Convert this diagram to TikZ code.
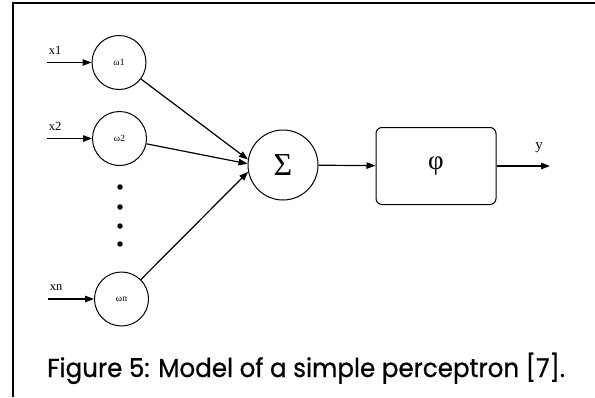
\documentclass[tikz,border=0pt]{standalone}
\usepackage{fontspec}
\setmainfont{Liberation Serif}
\newfontfamily\capfont{Poppins}[FakeBold=0.8]
\usetikzlibrary{arrows.meta}
\begin{document}
\begin{tikzpicture}[x=1pt,y=-1pt,
  weight/.style={circle, draw, line width=1pt, minimum size=54pt, inner sep=0pt,
    font=\fontsize{9.5}{9.5}\selectfont},
  sumnode/.style={circle, draw, line width=1pt, minimum size=70pt, inner sep=0pt,
    font=\fontsize{32}{32}\selectfont},
  actbox/.style={draw, line width=1pt, rounded corners=6pt, minimum width=120pt,
    minimum height=77pt, inner sep=0pt, font=\fontsize{27}{27}\selectfont},
  link/.style={line width=1.2pt, -{Triangle[length=9pt,width=6.5pt]}},
  inlabel/.style={font=\fontsize{12.5}{12.5}\selectfont, inner sep=0pt},
  dot/.style={circle, fill, minimum size=5.5pt, inner sep=0pt}]
  \useasboundingbox (0,0) rectangle (595,397);

  % frame
  \draw[line width=2pt] (595,3) -- (12.5,3) -- (12.5,397);

  % weight units
  \node[weight] (w1) at (119,62.5) {ω1};
  \node[weight] (w2) at (119.5,138.5) {ω2};
  \node[weight] (wn) at (121.5,299) {ωn};

  % ellipsis between the inputs
  \node[dot] (d1) at (120,187) {};
  \node[dot] (d2) at (120,207) {};
  \node[dot] (d3) at (120,226) {};
  \node[dot] (d4) at (120,244) {};

  % summation and activation
  \node[sumnode] (s) at (283,165) {Σ};
  \node[actbox] (phi) at (436,166) {φ};

  % inputs and output
  \coordinate (in1) at (47,62.5);
  \coordinate (in2) at (47,138.5);
  \coordinate (inn) at (48,299);
  \coordinate (out) at (550,166);
  \node[inlabel] (lx1) at (55,50) {x1};
  \node[inlabel] (lx2) at (55,126) {x2};
  \node[inlabel] (lxn) at (56,288) {xn};
  \node[inlabel, font=\fontsize{15}{15}\selectfont] (ly) at (539,148) {y};

  \draw[link] (in1) -- (w1);
  \draw[link] (in2) -- (w2);
  \draw[link] (inn) -- (wn);
  % the weighted inputs all meet at the left side of the sum
  \draw[link] (w1) -- (s.171);
  \draw[link] (w2) -- (s.178);
  \draw[link] (wn) -- (s.191);
  \draw[link] (s) -- (phi);
  \draw[link] (phi) -- (out);

  % caption
  \node[anchor=base west, inner sep=0pt, font=\capfont\fontsize{26}{26}\selectfont]
    (cap) at (47,377) {\scalebox{0.945}[1]{Figure 5: Model of a simple perceptron [7].}};
\end{tikzpicture}
\end{document}
